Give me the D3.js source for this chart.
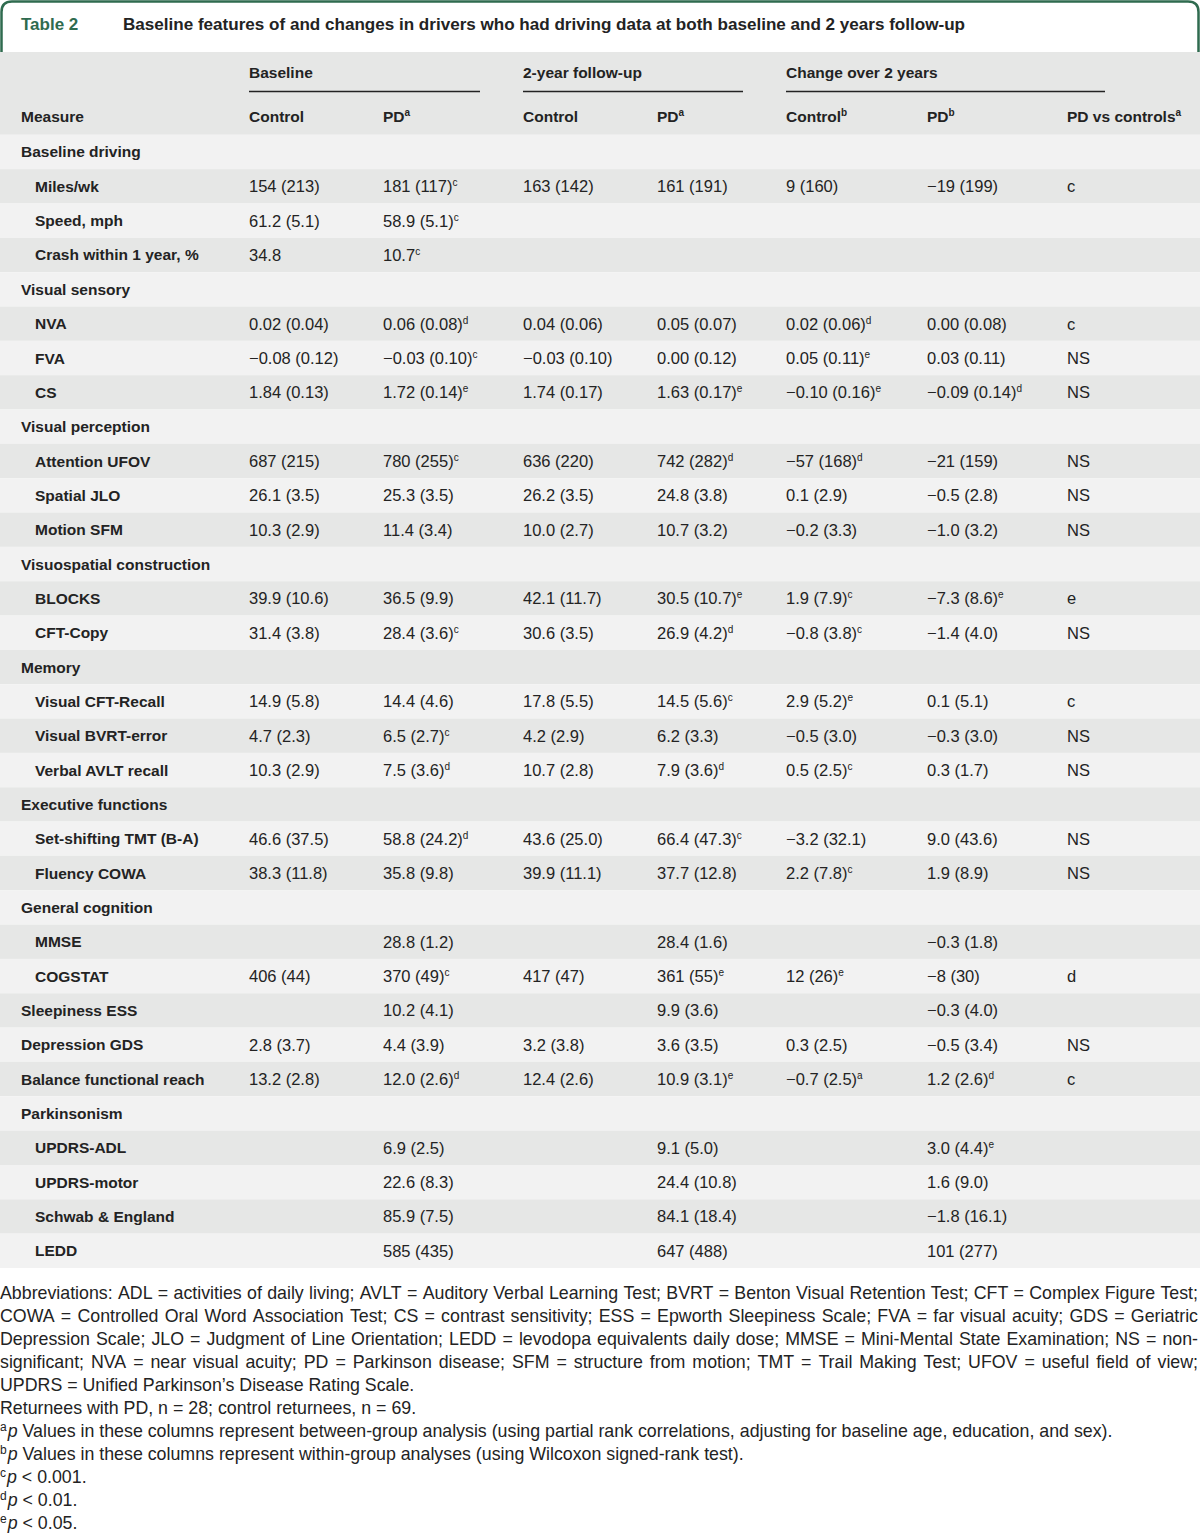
<!DOCTYPE html>
<html>
<head>
<meta charset="utf-8">
<script src="https://cdn.jsdelivr.net/npm/d3@7"></script>
<style>
  body { margin: 0; background: #fff; }
  svg { display: block; }
</style>
</head>
<body>
<svg id="tbl"></svg>
<script>
// ---- data ----
const measures = ["Baseline driving","Miles/wk","Speed, mph","Crash within 1 year, %","Visual sensory","NVA","FVA","CS",
  "Visual perception","Attention UFOV","Spatial JLO","Motion SFM","Visuospatial construction","BLOCKS","CFT-Copy",
  "Memory","Visual CFT-Recall","Visual BVRT-error","Verbal AVLT recall","Executive functions","Set-shifting TMT (B-A)",
  "Fluency COWA","General cognition","MMSE","COGSTAT","Sleepiness ESS","Depression GDS","Balance functional reach",
  "Parkinsonism","UPDRS-ADL","UPDRS-motor","Schwab & England","LEDD"];
const indented = [0,1,1,1,0,1,1,1,0,1,1,1,0,1,1,0,1,1,1,0,1,1,0,1,1,0,0,0,0,1,1,1,1];

const baseCtrl = ["","154 (213)","61.2 (5.1)","34.8","","0.02 (0.04)","−0.08 (0.12)","1.84 (0.13)","","687 (215)","26.1 (3.5)",
  "10.3 (2.9)","","39.9 (10.6)","31.4 (3.8)","","14.9 (5.8)","4.7 (2.3)","10.3 (2.9)","","46.6 (37.5)","38.3 (11.8)","",
  "","406 (44)","","2.8 (3.7)","13.2 (2.8)","","","","",""];
const basePD = ["","181 (117)^c","58.9 (5.1)^c","10.7^c","","0.06 (0.08)^d","−0.03 (0.10)^c","1.72 (0.14)^e","","780 (255)^c",
  "25.3 (3.5)","11.4 (3.4)","","36.5 (9.9)","28.4 (3.6)^c","","14.4 (4.6)","6.5 (2.7)^c","7.5 (3.6)^d","","58.8 (24.2)^d",
  "35.8 (9.8)","","28.8 (1.2)","370 (49)^c","10.2 (4.1)","4.4 (3.9)","12.0 (2.6)^d","","6.9 (2.5)","22.6 (8.3)","85.9 (7.5)","585 (435)"];
const fuCtrl = ["","163 (142)","","","","0.04 (0.06)","−0.03 (0.10)","1.74 (0.17)","","636 (220)","26.2 (3.5)","10.0 (2.7)","",
  "42.1 (11.7)","30.6 (3.5)","","17.8 (5.5)","4.2 (2.9)","10.7 (2.8)","","43.6 (25.0)","39.9 (11.1)","","","417 (47)","",
  "3.2 (3.8)","12.4 (2.6)","","","","",""];
const fuPD = ["","161 (191)","","","","0.05 (0.07)","0.00 (0.12)","1.63 (0.17)^e","","742 (282)^d","24.8 (3.8)","10.7 (3.2)","",
  "30.5 (10.7)^e","26.9 (4.2)^d","","14.5 (5.6)^c","6.2 (3.3)","7.9 (3.6)^d","","66.4 (47.3)^c","37.7 (12.8)","","28.4 (1.6)",
  "361 (55)^e","9.9 (3.6)","3.6 (3.5)","10.9 (3.1)^e","","9.1 (5.0)","24.4 (10.8)","84.1 (18.4)","647 (488)"];
const chgCtrl = ["","9 (160)","","","","0.02 (0.06)^d","0.05 (0.11)^e","−0.10 (0.16)^e","","−57 (168)^d","0.1 (2.9)","−0.2 (3.3)","",
  "1.9 (7.9)^c","−0.8 (3.8)^c","","2.9 (5.2)^e","−0.5 (3.0)","0.5 (2.5)^c","","−3.2 (32.1)","2.2 (7.8)^c","","","12 (26)^e","",
  "0.3 (2.5)","−0.7 (2.5)^a","","","","",""];
const chgPD = ["","−19 (199)","","","","0.00 (0.08)","0.03 (0.11)","−0.09 (0.14)^d","","−21 (159)","−0.5 (2.8)","−1.0 (3.2)","",
  "−7.3 (8.6)^e","−1.4 (4.0)","","0.1 (5.1)","−0.3 (3.0)","0.3 (1.7)","","9.0 (43.6)","1.9 (8.9)","","−0.3 (1.8)","−8 (30)",
  "−0.3 (4.0)","−0.5 (3.4)","1.2 (2.6)^d","","3.0 (4.4)^e","1.6 (9.0)","−1.8 (16.1)","101 (277)"];
const pdVsCtrl = ["","c","","","","c","NS","NS","","NS","NS","NS","","e","NS","","c","NS","NS","","NS","NS","","","d","",
  "NS","c","","","","",""];

const groupHeads = ["Baseline","2-year follow-up","Change over 2 years"];
const colHeads = ["Control","PD^a","Control","PD^a","Control^b","PD^b","PD vs controls^a"];

const title = "Baseline features of and changes in drivers who had driving data at both baseline and 2 years follow-up";
const notesJustified = [
  "Abbreviations: ADL = activities of daily living; AVLT = Auditory Verbal Learning Test; BVRT = Benton Visual Retention Test; CFT = Complex Figure Test;",
  "COWA = Controlled Oral Word Association Test; CS = contrast sensitivity; ESS = Epworth Sleepiness Scale; FVA = far visual acuity; GDS = Geriatric",
  "Depression Scale; JLO = Judgment of Line Orientation; LEDD = levodopa equivalents daily dose; MMSE = Mini-Mental State Examination; NS = non-",
  "significant; NVA = near visual acuity; PD = Parkinson disease; SFM = structure from motion; TMT = Trail Making Test; UFOV = useful field of view;"
];
const notesPlain = [
  "UPDRS = Unified Parkinson’s Disease Rating Scale.",
  "Returnees with PD, n = 28; control returnees, n = 69."
];
const footnoteKeys = ["a","b","c","d","e"];
const footnoteTexts = [
  " Values in these columns represent between-group analysis (using partial rank correlations, adjusting for baseline age, education, and sex).",
  " Values in these columns represent within-group analyses (using Wilcoxon signed-rank test).",
  " < 0.001.",
  " < 0.01.",
  " < 0.05."
];

// ---- layout ----
const W = 1200, H = 1535;
const green = "#2f6b4f", ink = "#232323";
const dark = "#e6e7e6", light = "#f2f2f2";
const tableFont = "'Liberation Sans', Arial, sans-serif";

const svg = d3.select("#tbl").attr("width", W).attr("height", H)
  .style("font-family", tableFont);

const columns = [baseCtrl, basePD, fuCtrl, fuPD, chgCtrl, chgPD, pdVsCtrl];
const colX = d3.scaleOrdinal().domain(d3.range(7)).range([249, 383, 523, 657, 786, 927, 1067]);
const groupSpan = [[0, 1, 480], [2, 3, 743], [4, 6, 1105]];

const yRow = d3.scaleBand().domain(d3.range(measures.length)).range([134.8, 1268]).padding(0);

// title box
svg.append("path")
  .attr("d", `M1.5,52 V12 Q1.5,1.5 12,1.5 H1188 Q1198.5,1.5 1198.5,12 V52`)
  .attr("fill", "none").attr("stroke", green).attr("stroke-width", 2.5);
svg.append("text").attr("x", 21).attr("y", 30).attr("fill", green)
  .style("font-size", "17px").style("font-weight", 600).text("Table 2");
svg.append("text").attr("x", 123).attr("y", 30).attr("fill", ink)
  .style("font-size", "17px").style("font-weight", 700)
  .attr("textLength", 842).attr("lengthAdjust", "spacingAndGlyphs").text(title);

// header
svg.append("rect").attr("x", 0).attr("y", 52).attr("width", W).attr("height", 134.8 - 52).attr("fill", dark);

// rich text helper: "^x" becomes a superscript
function rich(sel, str, supSize) {
  const parts = str.split("^");
  sel.append("tspan").text(parts[0]);
  if (parts.length > 1) {
    sel.append("tspan").attr("dy", -6).style("font-size", supSize + "px").text(parts[1]);
  }
}

groupSpan.forEach((g, i) => {
  svg.append("text").attr("x", colX(g[0])).attr("y", 78).attr("fill", ink)
    .style("font-size", "15.5px").style("font-weight", 700).text(groupHeads[i]);
  svg.append("line").attr("x1", colX(g[0])).attr("x2", g[2]).attr("y1", 91.5).attr("y2", 91.5)
    .attr("stroke", ink).attr("stroke-width", 1.5);
});

svg.append("text").attr("x", 21).attr("y", 122).attr("fill", ink)
  .style("font-size", "15.5px").style("font-weight", 700).text("Measure");
colHeads.forEach((h, i) => {
  const t = svg.append("text").attr("x", colX(i)).attr("y", 122).attr("fill", ink)
    .style("font-size", "15.5px").style("font-weight", 700);
  rich(t, h, 10);
});

// body rows
const rows = svg.append("g").selectAll("g.row").data(measures).join("g").attr("class", "row");
rows.append("rect")
  .attr("x", 0).attr("width", W)
  .attr("y", (d, i) => yRow(i)).attr("height", yRow.bandwidth())
  .attr("fill", (d, i) => i % 2 === 0 ? light : dark);
rows.append("text")
  .attr("x", (d, i) => indented[i] ? 35 : 21)
  .attr("y", (d, i) => yRow(i) + yRow.bandwidth() / 2 + 5.5)
  .attr("fill", ink).style("font-size", "15.5px").style("font-weight", 700)
  .text(d => d);

columns.forEach((col, c) => {
  col.forEach((v, i) => {
    if (!v) return;
    const t = svg.append("text").attr("x", colX(c))
      .attr("y", yRow(i) + yRow.bandwidth() / 2 + 6)
      .attr("fill", ink).style("font-size", "16.5px");
    rich(t, v, 10);
  });
});

// notes
const noteY = d3.scaleLinear().domain([0, 10]).range([1299, 1529]);
const notes = svg.append("g").attr("fill", ink).style("font-size", "17.8px");

notesJustified.forEach((line, li) => {
  const words = line.split(" ");
  const widths = words.map(w => {
    const tmp = notes.append("text").text(w);
    const wd = tmp.node().getComputedTextLength();
    tmp.remove();
    return wd;
  });
  const total = d3.sum(widths);
  const gap = (1198 - total) / (words.length - 1);
  let x = 0;
  words.forEach((w, k) => {
    notes.append("text").attr("x", x).attr("y", noteY(li)).text(w);
    x += widths[k] + gap;
  });
});
notesPlain.forEach((line, k) => {
  notes.append("text").attr("x", 0).attr("y", noteY(4 + k)).text(line);
});
footnoteKeys.forEach((key, k) => {
  const t = notes.append("text").attr("x", 0).attr("y", noteY(6 + k));
  t.append("tspan").attr("dy", -6).style("font-size", "12px").text(key);
  t.append("tspan").attr("dy", 6).attr("dx", 1).style("font-style", "italic").text("p");
  t.append("tspan").text(footnoteTexts[k]);
});
</script>
</body>
</html>
